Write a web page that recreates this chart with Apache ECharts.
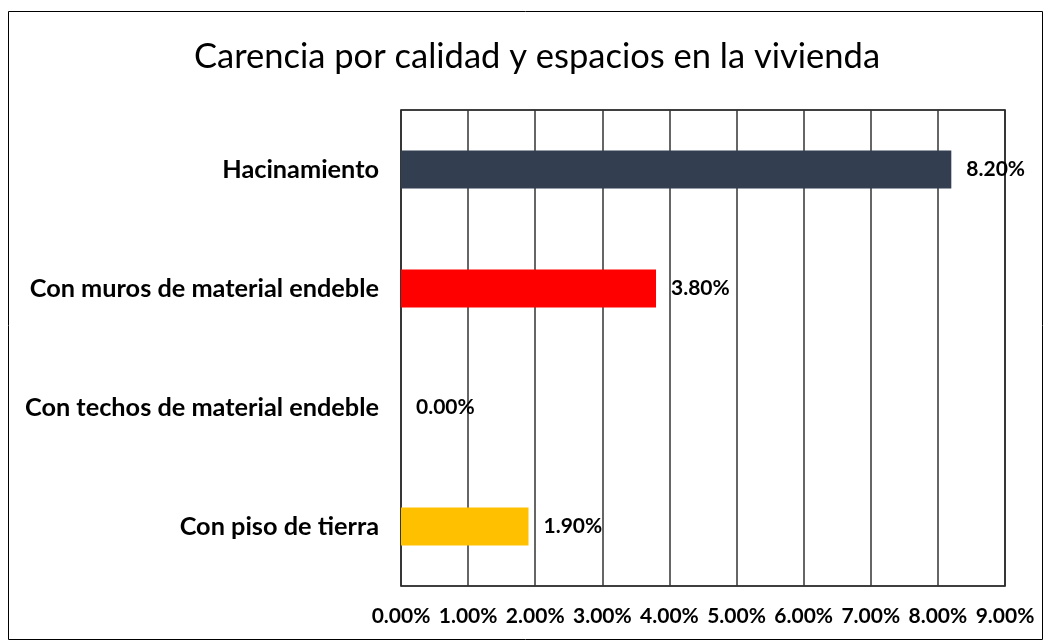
<!DOCTYPE html>
<html>
<head>
<meta charset="utf-8">
<script src="https://cdn.jsdelivr.net/npm/echarts@6/dist/echarts.min.js"></script>
<style>
	html, body { margin: 0; padding: 0; background: #fff; }
	#chart { width: 1051px; height: 644px; }
</style>
</head>
<body>
<div id="chart"></div>
<script>
var categories = ['Hacinamiento', 'Con muros de material endeble', 'Con techos de material endeble', 'Con piso de tierra'];
var values = [8.2, 3.8, 0.0, 1.9];
var barColors = ['#333F50', '#FF0000', '#A5A5A5', '#FFC000'];

var myChart = echarts.init(document.getElementById('chart'));
var font = 'Lato, "Open Sans", sans-serif';

var option = {
	animation: false,
	title: {
		text: 'Carencia por calidad y espacios en la vivienda',
		left: 189,
		top: 34,
		textStyle: {
			fontFamily: font,
			fontSize: 34.5,
			fontWeight: 'normal',
			color: '#000'
		}
	},
	graphic: [{
		type: 'rect',
		shape: { x: 8.5, y: 11.5, width: 1034, height: 628 },
		style: { fill: 'none', stroke: '#000', lineWidth: 1 },
		silent: true
	}],
	grid: {
		left: 401,
		top: 110,
		width: 604,
		height: 476,
		show: true,
		borderColor: '#000',
		borderWidth: 1.5
	},
	xAxis: {
		type: 'value',
		min: 0,
		max: 9,
		interval: 1,
		axisLine: { show: false },
		axisTick: { show: false },
		splitLine: { lineStyle: { color: '#333', width: 1.5 } },
		axisLabel: {
			margin: 20,
			fontFamily: font,
			fontSize: 21,
			fontWeight: 'bold',
			color: '#000',
			formatter: function (v) { return v.toFixed(2) + '%'; }
		}
	},
	yAxis: {
		type: 'category',
		inverse: true,
		data: categories,
		axisLine: { show: false },
		axisTick: { show: false },
		axisLabel: {
			margin: 22,
			fontFamily: font,
			fontSize: 25.3,
			fontWeight: 'bold',
			color: '#000'
		}
	},
	series: [{
		type: 'bar',
		barWidth: 38,
		data: values.map(function (v, i) {
			return { value: v, itemStyle: { color: barColors[i] } };
		}),
		label: {
			show: true,
			position: 'right',
			distance: 15,
			fontFamily: font,
			fontSize: 21,
			fontWeight: 'bold',
			color: '#000',
			formatter: function (p) { return p.value.toFixed(2) + '%'; }
		}
	}]
};

myChart.setOption(option);
</script>
</body>
</html>
